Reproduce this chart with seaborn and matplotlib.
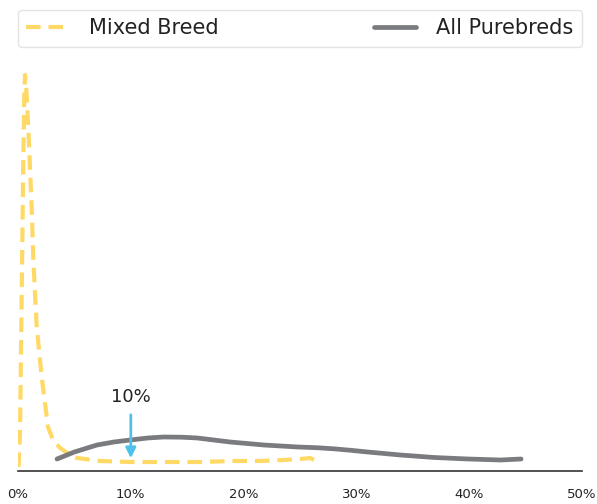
import matplotlib
matplotlib.use("Agg")
import matplotlib.pyplot as plt
import seaborn as sns
import pandas as pd

# Density curves (x in %, density in arbitrary units)
mixed_x = [0.05, 0.18, 0.33, 0.47, 0.55, 0.62, 0.72, 0.91, 1.22, 1.36, 1.66, 2.1, 2.66,
           3.1, 3.73, 4.5, 5.24, 7.3, 9.95, 13.0, 16.2, 19.0, 21.5, 23.5, 25.0, 25.9, 26.6]
mixed_y = [0.004, 0.04, 0.178, 0.311, 0.372, 0.396, 0.385, 0.344, 0.261, 0.211, 0.144,
           0.094, 0.044, 0.031, 0.023, 0.017, 0.013, 0.010, 0.009, 0.009, 0.009, 0.010,
           0.010, 0.011, 0.012, 0.013, 0.009]

pure_x = [3.46, 5.0, 7.0, 8.5, 9.95, 11.5, 12.9, 14.5, 15.9, 18.8, 21.8, 24.8, 26.5,
          28.0, 29.5, 31.0, 33.9, 36.9, 39.9, 42.8, 44.6]
pure_y = [0.012, 0.019, 0.026, 0.029, 0.031, 0.033, 0.034, 0.0338, 0.033, 0.029, 0.026,
          0.024, 0.0233, 0.0222, 0.0207, 0.019, 0.016, 0.0135, 0.012, 0.011, 0.012]

xticks = [0, 10, 20, 30, 40, 50]
xtick_labels = ["0%", "10%", "20%", "30%", "40%", "50%"]

mixed = pd.DataFrame({"x": mixed_x, "y": mixed_y})
pure = pd.DataFrame({"x": pure_x, "y": pure_y})

sns.set_style("white")
plt.rcParams["font.family"] = ["DejaVu Sans"]

fig = plt.figure(figsize=(5.97, 5.04), dpi=100)
ax = fig.add_axes([18 / 597, 33 / 504, 564 / 597, 416 / 504])

sns.lineplot(data=mixed, x="x", y="y", ax=ax, color="#FFD966", linewidth=3,
             linestyle=(0, (3.5, 1.9)), label="Mixed Breed", sort=False)
sns.lineplot(data=pure, x="x", y="y", ax=ax, color="#797B7F", linewidth=3.4,
             label="All Purebreds", sort=False)

# 10% marker
ax.annotate("", xy=(10, 0.010), xytext=(10, 0.059),
            arrowprops=dict(arrowstyle="-|>", color="#4FC1EC", lw=2, mutation_scale=15))
ax.text(10, 0.074, "10%", ha="center", va="center", fontsize=13, color="#222222")

ax.set_xlim(0, 50)
ax.set_ylim(0, 0.416)
ax.set_xticks(xticks)
ax.set_xticklabels(xtick_labels, fontsize=9.5, color="#222222")
ax.set_yticks([])
ax.set_xlabel("")
ax.set_ylabel("")
ax.tick_params(axis="x", length=0, pad=12)
sns.despine(ax=ax, left=True)
ax.spines["bottom"].set_color("#333333")
ax.spines["bottom"].set_linewidth(1.2)

leg = ax.legend(loc="lower left", bbox_to_anchor=(0, 1.02, 1, 0.09), mode="expand",
                ncol=2, fontsize=15, frameon=True, borderaxespad=0,
                handlelength=2.0, handletextpad=1.0)
leg.get_frame().set_edgecolor("#DDDDDD")
for t in leg.get_texts():
    t.set_color("#222222")

fig.savefig("out.png", dpi=100)
